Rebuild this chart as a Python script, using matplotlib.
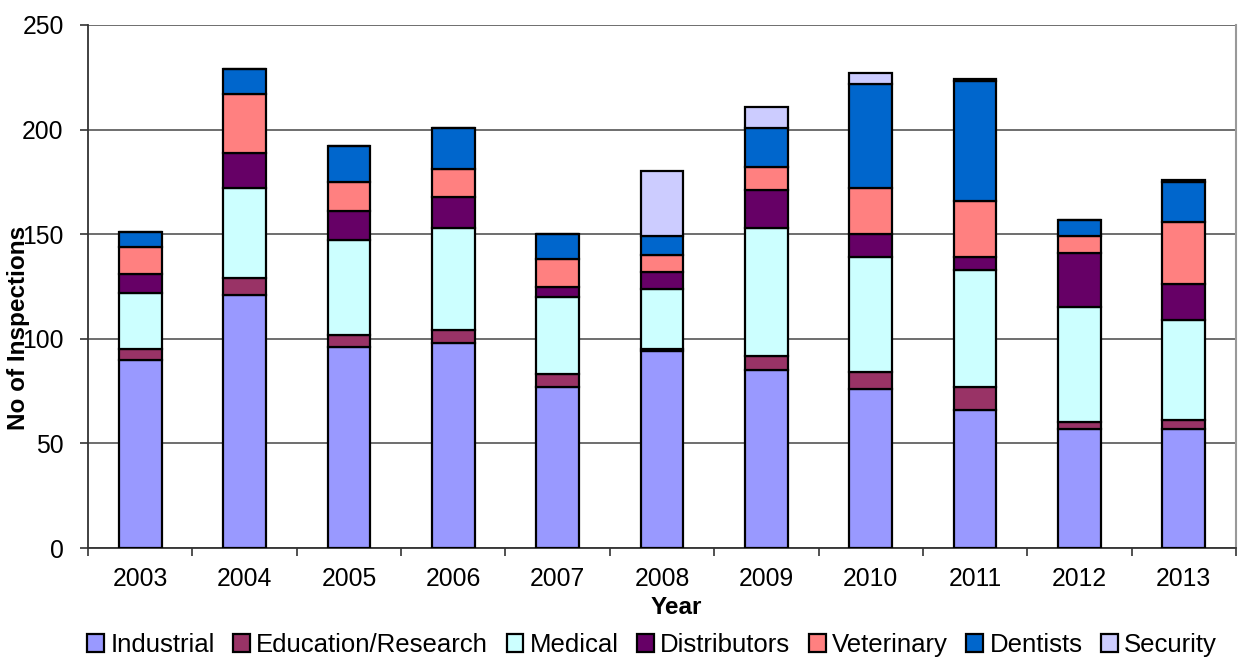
import matplotlib
matplotlib.use("Agg")
import matplotlib.pyplot as plt
import numpy as np

years = ["2003", "2004", "2005", "2006", "2007", "2008", "2009", "2010", "2011", "2012", "2013"]
industrial = [90, 121, 96, 98, 77, 94, 85, 76, 66, 57, 57]
education = [5, 8, 6, 6, 6, 1, 7, 8, 11, 3, 4]
medical = [27, 43, 45, 49, 37, 29, 61, 55, 56, 55, 48]
distributors = [9, 17, 14, 15, 5, 8, 18, 11, 6, 26, 17]
veterinary = [13, 28, 14, 13, 13, 8, 11, 22, 27, 8, 30]
dentists = [7, 12, 17, 20, 12, 9, 19, 50, 57, 8, 19]
security = [0, 0, 0, 0, 0, 31, 10, 5, 1, 0, 1]

series_names = ["Industrial", "Education/Research", "Medical", "Distributors",
                "Veterinary", "Dentists", "Security"]
series_values = [industrial, education, medical, distributors, veterinary, dentists, security]
colors = ["#9999FF", "#993366", "#CCFFFF", "#660066", "#FF8080", "#0066CC", "#CCCCFF"]

plt.rcParams['font.family'] = ['Liberation Sans', 'DejaVu Sans']

fig = plt.figure(figsize=(12.38, 6.6), dpi=100)
ax = fig.add_axes([88/1238, 1 - 548/660, (1236-88)/1238, (548-25)/660])

x = np.arange(len(years))
bottom = np.zeros(len(years))
handles = []
for name, vals, col in zip(series_names, series_values, colors):
    v = np.array(vals, dtype=float)
    b = ax.bar(x, v, width=0.41, bottom=bottom, color=col, edgecolor="black",
               linewidth=1.6, label=name, zorder=3)
    handles.append(b)
    bottom += v

ax.set_xlim(-0.5, len(years) - 0.5)
ax.set_ylim(0, 250)
ax.set_yticks([0, 50, 100, 150, 200, 250])
ax.yaxis.grid(True, color="#555555", linewidth=1.2, zorder=0)
ax.set_axisbelow(True)

ax.set_xticks(x)
ax.set_xticklabels(years, fontsize=17.8)
ax.set_xticks(np.arange(-0.5, len(years), 1.0), minor=True)
ax.tick_params(axis="x", which="major", length=0, pad=14)
ax.tick_params(axis="x", which="minor", length=6, width=1.2, color="#333333", direction="out")
ax.tick_params(axis="y", length=6, width=1.2, color="#333333", labelsize=17.8, pad=11.5)

for s in ["left", "bottom"]:
    ax.spines[s].set_color("#333333")
    ax.spines[s].set_linewidth(1.3)
ax.spines["top"].set_visible(False)
ax.spines["right"].set_color("#999999")
ax.spines["right"].set_linewidth(1.5)

ax.set_xlabel("Year", fontsize=17.5, fontweight="bold")
ax.xaxis.set_label_coords((676 - 88) / 1148, -(596 - 548) / 523)
ax.set_ylabel("No of Inspections", fontsize=17.5, fontweight="bold")
ax.yaxis.set_label_coords((30 - 88) / 1148, (548 - 328) / 523)

leg = fig.legend(handles=handles, labels=series_names, loc="center",
                 bbox_to_anchor=(652 / 1238, 1 - 645 / 660), ncol=7, frameon=False,
                 fontsize=18.5, handlelength=0.65, handleheight=0.65,
                 handletextpad=0.25, columnspacing=0.72, borderaxespad=0)

fig.savefig("out.png", dpi=100)
